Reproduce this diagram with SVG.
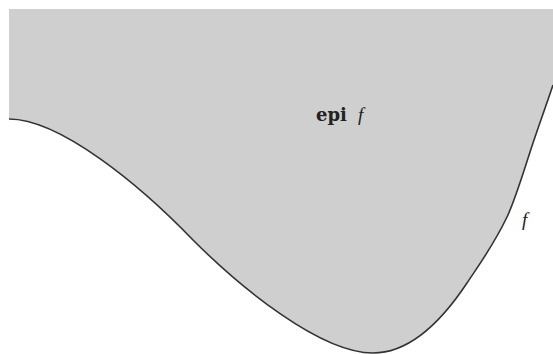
<svg xmlns="http://www.w3.org/2000/svg" width="553" height="354" viewBox="0 0 553 354">
<style>
.epi{fill:#cfcfcf;stroke:none}
.graph{fill:none;stroke:#333;stroke-width:1.6}
.t{font-family:"Liberation Serif","DejaVu Serif",serif;font-size:19px;fill:#222}
.b{font-family:"DejaVu Serif","Liberation Serif",serif;font-weight:bold;font-size:18px}
.i{font-style:italic}
</style>
<rect width="553" height="354" fill="#fff"/>
<g id="epigraph">
<path class="epi" d="M9,9 H553 V85 C546.3,105 539.7,123 533,143 C524.3,169 515.7,198.8 507,217 C493.7,245 480.3,263 467,283 C436,329.7 404.7,353 373,353 C320,353 240,287 193,240 C140,185 60,119 9,119 Z"/>
<text class="t b" x="316" y="121">epi</text>
<text class="t i" x="358" y="121">f</text>
</g>
<g id="connectors">
<path id="f-curve" class="graph" d="M9,119 C60,119 140,185 193,240 C240,287 320,353 373,353 C404.7,353 436,329.7 467,283 C480.3,263 493.7,245 507,217 C515.7,198.8 524.3,169 533,143 C539.7,123 546.3,105 553,85"/>
</g>
<g id="f-label">
<text class="t i" x="522" y="226" font-size="20">f</text>
</g>
</svg>
